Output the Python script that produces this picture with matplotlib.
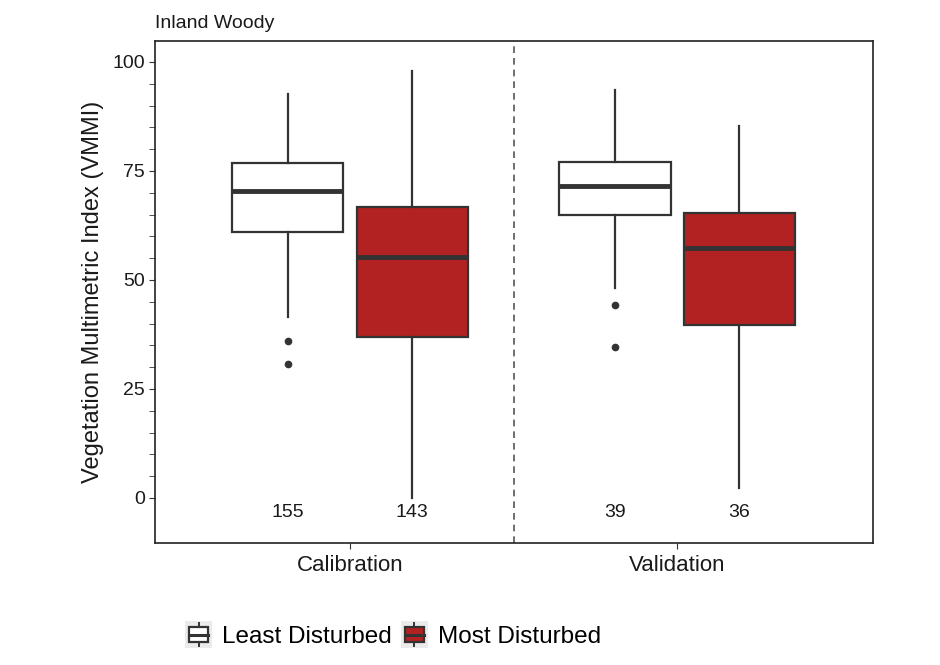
import matplotlib
matplotlib.use('Agg')
import matplotlib.pyplot as plt
from matplotlib.legend_handler import HandlerBase
from matplotlib.patches import Rectangle, Patch
from matplotlib.lines import Line2D

plt.rcParams['font.family'] = ['Liberation Sans', 'DejaVu Sans']

# summary stats per group: calibration/validation x least/most disturbed
periods = ['Calibration', 'Validation']
groups = ['Least Disturbed', 'Most Disturbed']
fills = ['white', '#B22222']
whislo = [[41.4, 0.0], [48.2, 2.2]]
q1 = [[61.1, 36.9], [64.9, 39.7]]
med = [[70.5, 55.3], [71.6, 57.3]]
q3 = [[76.8, 66.7], [77.0, 65.3]]
whishi = [[92.6, 98.0], [93.6, 85.2]]
fliers = [[[35.9, 30.7], []], [[44.3, 34.7], []]]
counts = [[155, 143], [39, 36]]

edge = '#333333'
txt = '#1a1a1a'
offset = 0.19
width = 0.34

fig = plt.figure(figsize=(9.4, 6.65), dpi=100)
ax = fig.add_axes([0.165, 0.184, 0.764, 0.755])

for i, period in enumerate(periods):
    for j, grp in enumerate(groups):
        pos = i + 1 + (j - 0.5) * 2 * offset
        st = dict(whislo=whislo[i][j], q1=q1[i][j], med=med[i][j],
                  q3=q3[i][j], whishi=whishi[i][j], fliers=fliers[i][j])
        ax.bxp([st], positions=[pos], widths=width, patch_artist=True,
               showcaps=False,
               boxprops=dict(facecolor=fills[j], edgecolor=edge, linewidth=1.6),
               medianprops=dict(color=edge, linewidth=3.5, solid_capstyle='butt'),
               whiskerprops=dict(color=edge, linewidth=1.6),
               flierprops=dict(marker='o', markersize=4.5, markerfacecolor=edge,
                               markeredgecolor=edge))
        ax.text(pos, -3.4, str(counts[i][j]), ha='center', va='center',
                fontsize=14, color=txt)

ax.axvline(1.5, color='#555555', linestyle=(0, (4, 3)), linewidth=1.2)

ax.set_xlim(0.404, 2.6)
ax.set_ylim(-10.25, 104.9)
ax.set_xticks([1, 2])
ax.set_xticklabels(periods, fontsize=16)
ax.set_yticks([0, 25, 50, 75, 100])
ax.set_yticks([v for v in range(0, 101, 5) if v % 25], minor=True)
ax.tick_params(axis='y', labelsize=14, length=4, color=edge, labelcolor=txt)
ax.tick_params(axis='y', which='minor', length=4, color=edge)
ax.tick_params(axis='x', length=4, color=edge, labelcolor=txt, pad=5)
for sp in ax.spines.values():
    sp.set_color('#222222')
    sp.set_linewidth(1.2)
ax.set_ylabel('Vegetation Multimetric Index (VMMI)', fontsize=17, color=txt,
              labelpad=6)
ax.set_title('Inland Woody', loc='left', fontsize=14, pad=9, color=txt)


class BoxHandler(HandlerBase):
    # little boxplot glyph for the legend keys
    def create_artists(self, legend, orig, xd, yd, w, h, fontsize, trans):
        fc = orig.get_facecolor()
        bg = Rectangle((xd, yd - h * 0.3), w, h * 1.6, facecolor='#ebebeb',
                       edgecolor='none', transform=trans)
        cx = xd + w / 2
        wl = Line2D([cx, cx], [yd - h * 0.2, yd + h * 1.2], color=edge,
                    linewidth=1.4, transform=trans)
        box = Rectangle((xd + w * 0.15, yd + h * 0.05), w * 0.7, h * 0.9,
                        facecolor=fc, edgecolor=edge, linewidth=1.6, transform=trans)
        md = Line2D([xd + w * 0.15, xd + w * 0.85], [yd + h * 0.5, yd + h * 0.5],
                    color=edge, linewidth=2.2, transform=trans)
        return [bg, wl, box, md]


handles = [Patch(facecolor=f, edgecolor=edge) for f in fills]
fig.legend(handles, groups, handler_map={Patch: BoxHandler()},
           loc='center left', bbox_to_anchor=(0.197, 0.042), ncol=2,
           frameon=False, fontsize=17.5, handlelength=1.1, handletextpad=0.4,
           columnspacing=0.4, borderpad=0, borderaxespad=0)

fig.savefig('out.png', dpi=100, facecolor='white')
